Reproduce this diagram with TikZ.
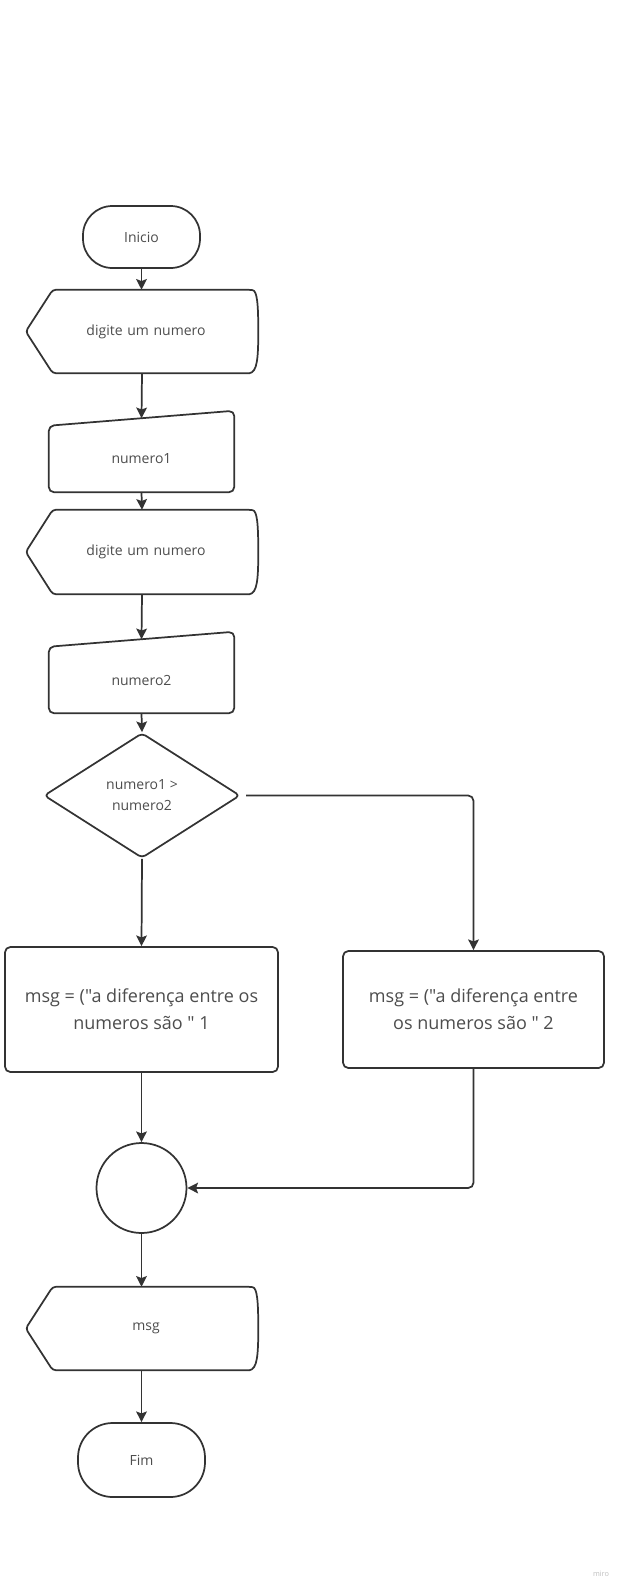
\documentclass[tikz,border=0pt]{standalone}
\usepackage{fontspec}
\setmainfont{Open Sans}[Ligatures=TeXOff]
\usetikzlibrary{arrows.meta,calc,shapes.geometric}
\definecolor{edge}{HTML}{333333}
\definecolor{ink}{HTML}{4D4D4D}
\begin{document}
\begin{tikzpicture}[x=0.75pt,y=-0.75pt,
  outline/.style={draw=edge, line width=1.3pt, line join=round},
  txt/.style={text=ink, font=\fontsize{10.5pt}{15.75pt}\selectfont, align=center},
  bigtxt/.style={text=ink, font=\fontsize{13.5pt}{20.25pt}\selectfont, align=center},
  terminal/.style={outline, txt, minimum width=#1*0.75pt},
  frame/.style={txt, draw=none, inner sep=0pt},
  procbox/.style={outline, bigtxt, rounded corners=4pt, inner sep=0pt},
  flow/.style={draw=edge, line width=1.3pt, -{Stealth[length=8pt,width=8pt,inset=1.5pt]}},
]
\useasboundingbox (0,0) rectangle (628,1591);
\fill[white] (0,0) rectangle (628,1591);

% display shape: pointed left end, slightly bowed right side
\newcommand{\displayshape}[1]{%
  \draw[outline, rounded corners=2.5pt]
    (#1.west) -- ($(#1.north west)+(27,0)$) -- ($(#1.north east)+(-9,0)$)
    [sharp corners] .. controls ($(#1.north east)+(-1,1)$) and ($(#1.north east)+(0,15)$) .. (#1.east)
    .. controls ($(#1.south east)+(0,-15)$) and ($(#1.south east)+(-1,-1)$) .. ($(#1.south east)+(-9,0)$)
    [rounded corners=2.5pt] -- ($(#1.south west)+(27,0)$) -- cycle;}
% manual input shape: top edge rising to the right
\newcommand{\manualshape}[1]{%
  \draw[outline, rounded corners=4pt]
    (#1.north west) -- ($(#1.north east)+(0,-15)$) -- (#1.south east) -- (#1.south west) -- cycle;
  \coordinate (#1top) at ($(#1.north)+(0,-7.5)$);}

% start
\node[terminal=117, minimum height=62*0.75pt, rounded corners=22pt] (start) at (141.5,237) {Inicio};

% first prompt and input
\node[frame, minimum width=232*0.75pt, minimum height=83*0.75pt, text width=232*0.75pt] (d1) at (142,331.5) {\hspace*{6pt}digite um numero};
\displayshape{d1}
\node[frame, minimum width=185*0.75pt, minimum height=66*0.75pt] (n1) at (141.5,459) {numero1};
\manualshape{n1}

% second prompt and input
\node[frame, minimum width=232*0.75pt, minimum height=84*0.75pt, text width=232*0.75pt] (d2) at (142,552) {\hspace*{6pt}digite um numero};
\displayshape{d2}
\node[frame, minimum width=185*0.75pt, minimum height=66*0.75pt] (n2) at (141.5,680) {numero2};
\manualshape{n2}

% decision
\node[shape=diamond, outline, txt, inner sep=0pt, rounded corners=3pt,
      minimum width=196*0.75pt, minimum height=125*0.75pt] (dec) at (142,795.5) {numero1 >\\numero2};

% the two messages
\node[procbox, minimum width=273*0.75pt, minimum height=125*0.75pt] (b1) at (141.5,1009.5)
  {msg = ("a diferença entre os\\numeros são " 1};
\node[procbox, minimum width=261*0.75pt, minimum height=117*0.75pt] (b2) at (473.5,1009.5)
  {msg = ("a diferença entre\\os numeros são " 2};

% connector circle
\node[circle, outline, minimum size=90*0.75pt, inner sep=0pt] (join) at (141.5,1188) {};

% output and end
\node[frame, minimum width=232*0.75pt, minimum height=83*0.75pt, text width=232*0.75pt] (d3) at (142,1328.5) {\hspace*{6pt}msg};
\displayshape{d3}
\node[terminal=127, minimum height=74*0.75pt, rounded corners=26pt] (stop) at (141.5,1460) {Fim};

% connectors
\draw[flow] (start.south) -- (d1.north -| start.south);
\draw[flow] (d1.south) -- (n1top);
\draw[flow] (n1.south) -- (d2.north);
\draw[flow] (d2.south) -- (n2top);
\draw[flow] (n2.south) -- (dec.north);
\draw[flow] (dec.south) -- (b1.north);
\draw[flow, rounded corners=4pt] ([xshift=4pt]dec.east) -- (b2.north |- dec.east) -- (b2.north);
\draw[flow] (b1.south) -- (join.north);
\draw[flow, rounded corners=4pt] (b2.south) |- (join.east);
\draw[flow] (join.south) -- (d3.north -| join.south);
\draw[flow] (d3.south -| stop.north) -- (stop.north);

% watermark
\node[text=black!25, font=\fontsize{5.5pt}{6pt}\selectfont] (brand) at (601,1574) {miro};
\end{tikzpicture}
\end{document}
